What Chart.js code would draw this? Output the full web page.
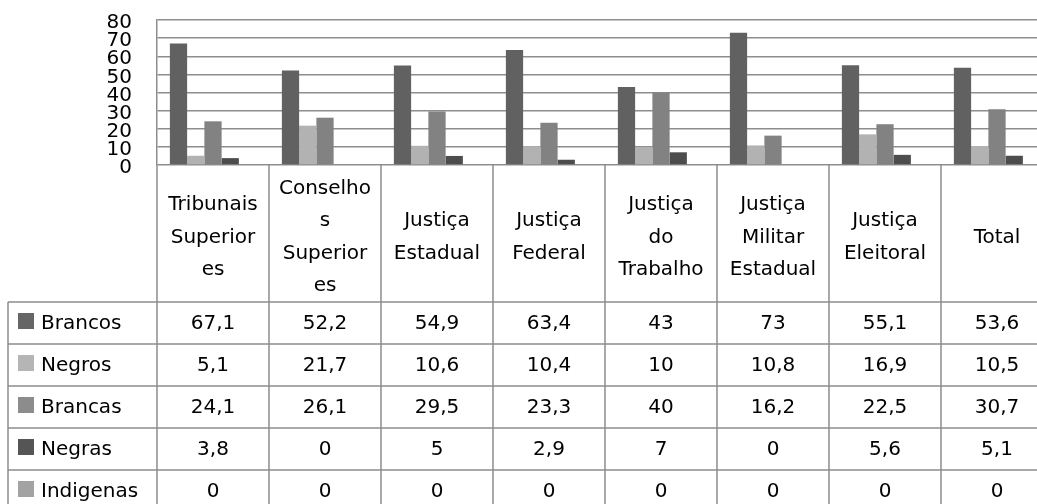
<!DOCTYPE html>
<html>
<head>
<meta charset="utf-8">
<script src="https://cdn.jsdelivr.net/npm/chart.js@4.4.1/dist/chart.umd.min.js"></script>
<style>
    html, body { margin: 0; padding: 0; background: #fff; overflow: hidden; }
    #wrap { width: 1060px; height: 504px; }
</style>
</head>
<body>
<div id="wrap"><canvas id="chart" width="1060" height="504"></canvas></div>
<script>
// Category labels, already wrapped the way the original table wraps them
const categories = [
    ["Tribunais", "Superior", "es"],
    ["Conselho", "s", "Superior", "es"],
    ["Justiça", "Estadual"],
    ["Justiça", "Federal"],
    ["Justiça", "do", "Trabalho"],
    ["Justiça", "Militar", "Estadual"],
    ["Justiça", "Eleitoral"],
    ["Total"]
];

const seriesNames = ["Brancos", "Negros", "Brancas", "Negras", "Indigenas"];

const brancos   = [67.1, 52.2, 54.9, 63.4, 43, 73, 55.1, 53.6];
const negros    = [5.1, 21.7, 10.6, 10.4, 10, 10.8, 16.9, 10.5];
const brancas   = [24.1, 26.1, 29.5, 23.3, 40, 16.2, 22.5, 30.7];
const negras    = [3.8, 0, 5, 2.9, 7, 0, 5.6, 5.1];
const indigenas = [0, 0, 0, 0, 0, 0, 0, 0];

const yTicks = [0, 10, 20, 30, 40, 50, 60, 70, 80];

const seriesData = [brancos, negros, brancas, negras, indigenas];
const barColors = ["#616161", "#b2b2b2", "#828282", "#4d4d4d", "#9c9c9c"];
const boxColors = ["#666666", "#b5b5b5", "#8c8c8c", "#555555", "#a3a3a3"];

const LINE = "#8d8d8d";
const FONT = "'DejaVu Sans', sans-serif";

// Data table drawn under the plot, columns follow the x scale
const dataTable = {
    id: "dataTable",
    afterDraw(chart) {
        const ctx = chart.ctx;
        const x = chart.scales.x;
        const area = chart.chartArea;
        const colW = x.width / categories.length;
        const headTop = area.bottom;
        const headBottom = headTop + 137;
        const rowH = 42;
        const tableLeft = 8;
        const tableRight = area.right;
        const bottom = headBottom + rowH * seriesNames.length;

        ctx.save();
        ctx.strokeStyle = LINE;
        ctx.lineWidth = 1.5;

        // vertical lines
        for (let i = 0; i <= categories.length; i++) {
            const px = x.left + i * colW;
            ctx.beginPath();
            ctx.moveTo(px, headTop);
            ctx.lineTo(px, bottom);
            ctx.stroke();
        }
        ctx.beginPath();
        ctx.moveTo(tableLeft, headBottom);
        ctx.lineTo(tableLeft, bottom);
        ctx.stroke();

        // horizontal lines
        for (let r = 0; r <= seriesNames.length; r++) {
            const py = headBottom + r * rowH;
            ctx.beginPath();
            ctx.moveTo(tableLeft, py);
            ctx.lineTo(tableRight, py);
            ctx.stroke();
        }

        ctx.fillStyle = "#000";
        ctx.font = "20px " + FONT;
        ctx.textBaseline = "middle";
        ctx.textAlign = "center";

        // header labels
        const lineGap = 32.5;
        categories.forEach((lines, i) => {
            const cx = x.getPixelForValue(i);
            const cy = (headTop + headBottom) / 2 + 4;
            const start = cy - (lines.length - 1) * lineGap / 2;
            lines.forEach((t, k) => ctx.fillText(t, cx, start + k * lineGap));
        });

        // rows
        seriesNames.forEach((name, r) => {
            const cy = headBottom + r * rowH + rowH / 2 + 1;

            ctx.fillStyle = boxColors[r];
            ctx.fillRect(18, cy - 11, 16, 16);

            ctx.fillStyle = "#000";
            ctx.textAlign = "left";
            ctx.fillText(name, 41, cy);

            ctx.textAlign = "center";
            seriesData[r].forEach((v, i) => {
                ctx.fillText(String(v).replace(".", ","), x.getPixelForValue(i), cy);
            });
        });

        ctx.restore();
    }
};

new Chart(document.getElementById("chart"), {
    type: "bar",
    data: {
        labels: categories,
        datasets: seriesNames.map((name, i) => ({
            label: name,
            data: seriesData[i],
            backgroundColor: barColors[i],
            borderWidth: 0,
            categoryPercentage: 0.77,
            barPercentage: 1
        }))
    },
    options: {
        responsive: false,
        animation: false,
        layout: {
            padding: { top: 20, right: 7, bottom: 339, left: 0 }
        },
        plugins: {
            legend: { display: false },
            tooltip: { enabled: false }
        },
        scales: {
            x: {
                display: false
            },
            y: {
                min: yTicks[0],
                max: yTicks[yTicks.length - 1],
                afterBuildTicks(scale) {
                    scale.ticks = yTicks.map(v => ({ value: v }));
                },
                afterFit(scale) {
                    scale.width = 157;
                    scale.paddingTop = 0;
                    scale.paddingBottom = 0;
                },
                ticks: {
                    autoSkip: false,
                    padding: 25,
                    labelOffset: 3,
                    color: "#000",
                    font: { family: FONT, size: 20, lineHeight: 1 }
                },
                grid: {
                    color: LINE,
                    lineWidth: 1.5,
                    drawTicks: false
                },
                border: {
                    display: true,
                    color: LINE,
                    width: 1.5
                }
            }
        }
    },
    plugins: [dataTable]
});
</script>
</body>
</html>
